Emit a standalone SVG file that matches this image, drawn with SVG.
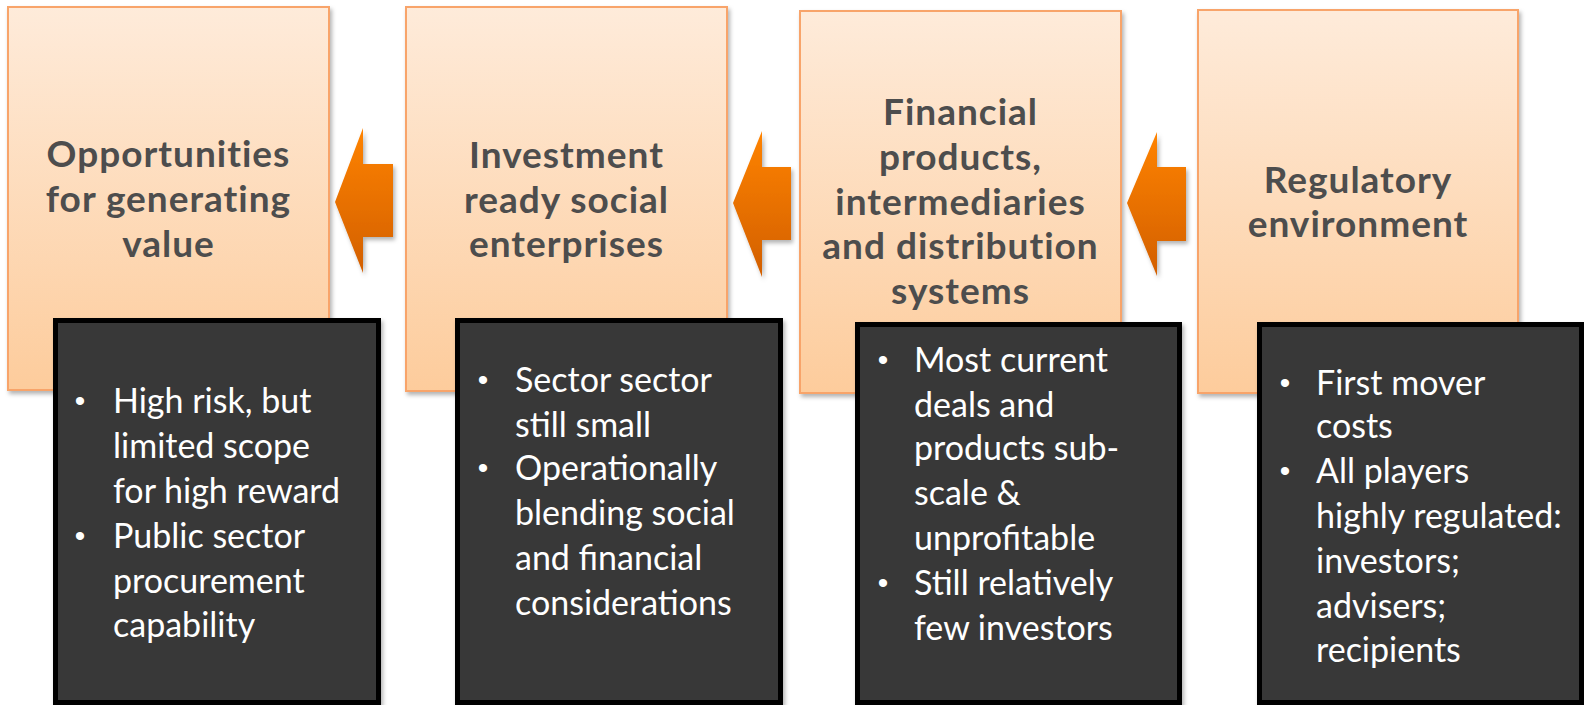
<svg xmlns="http://www.w3.org/2000/svg" width="1584" height="705" viewBox="0 0 1584 705">
<defs>
<linearGradient id="gBox" x1="0" y1="0" x2="0" y2="1">
<stop offset="0" stop-color="#FEEBDA"/>
<stop offset="1" stop-color="#FDCC9C"/>
</linearGradient>
<linearGradient id="gArrow" x1="0" y1="0" x2="0" y2="1">
<stop offset="0" stop-color="#FF8304"/>
<stop offset="1" stop-color="#D25F00"/>
</linearGradient>
<filter id="sh" x="-10%" y="-10%" width="125%" height="125%">
<feDropShadow dx="2" dy="3" stdDeviation="2" flood-color="#000" flood-opacity="0.3"/>
</filter>
</defs>
<style>
.box{fill:url(#gBox);stroke:#F8A46A;stroke-width:2;filter:url(#sh)}
.dark{fill:#393939;stroke:#000;stroke-width:5;filter:url(#sh)}
.arrow{fill:url(#gArrow);filter:url(#sh)}
.title{font-family:Lato,"Liberation Sans",sans-serif;font-weight:bold;font-size:37px;letter-spacing:1px;fill:#4D4D4D;text-anchor:middle}
.body{font-family:Lato,"Liberation Sans",sans-serif;font-size:34px;fill:#FFFFFF}
.bul{font-family:"Liberation Sans",sans-serif;font-size:30px;fill:#FFFFFF;text-anchor:middle}
</style>
<rect width="1584" height="705" fill="#FFFFFF"/>

<g id="node-opportunities">
<rect class="box" x="8" y="7" width="321" height="383"/>
<text class="title"><tspan x="168.5" y="167">Opportunities</tspan><tspan x="168.5" y="212">for generating</tspan><tspan x="168.5" y="257">value</tspan></text>
</g>
<g id="node-investment">
<rect class="box" x="406" y="7" width="321" height="384"/>
<text class="title"><tspan x="566.5" y="168">Investment</tspan><tspan x="566.5" y="213">ready social</tspan><tspan x="566.5" y="257">enterprises</tspan></text>
</g>
<g id="node-financial">
<rect class="box" x="800" y="11" width="321" height="382"/>
<text class="title"><tspan x="960.5" y="125">Financial</tspan><tspan x="960.5" y="170">products,</tspan><tspan x="960.5" y="215">intermediaries</tspan><tspan x="960.5" y="259">and distribution</tspan><tspan x="960.5" y="304">systems</tspan></text>
</g>
<g id="node-regulatory">
<rect class="box" x="1198" y="10" width="320" height="383"/>
<text class="title"><tspan x="1358" y="193">Regulatory</tspan><tspan x="1358" y="237">environment</tspan></text>
</g>

<g id="connectors">
<polygon class="arrow" points="335,202 363,128 363,164 393,164 393,237 363,237 363,273"/>
<polygon class="arrow" points="733,203 762,131 762,167 791,167 791,240 762,240 762,277"/>
<polygon class="arrow" points="1127,203 1157,132 1157,167 1186,167 1186,241 1157,241 1157,276"/>
</g>

<g id="note-opportunities">
<rect class="dark" x="55.5" y="320.5" width="323" height="382"/>
<text class="bul"><tspan x="80" y="411">•</tspan><tspan x="80" y="546">•</tspan></text>
<text class="body"><tspan x="113" y="413">High risk, but</tspan><tspan x="113" y="458">limited scope</tspan><tspan x="113" y="503">for high reward</tspan><tspan x="113" y="548">Public sector</tspan><tspan x="113" y="593">procurement</tspan><tspan x="113" y="637">capability</tspan></text>
</g>
<g id="note-investment">
<rect class="dark" x="457.5" y="320.5" width="323" height="382"/>
<text class="bul"><tspan x="483" y="390">•</tspan><tspan x="483" y="478">•</tspan></text>
<text class="body"><tspan x="515" y="392">Sector sector</tspan><tspan x="515" y="437">still small</tspan><tspan x="515" y="480">Operationally</tspan><tspan x="515" y="525">blending social</tspan><tspan x="515" y="570">and financial</tspan><tspan x="515" y="615">considerations</tspan></text>
</g>
<g id="note-financial">
<rect class="dark" x="857.5" y="324.5" width="322" height="378"/>
<text class="bul"><tspan x="883" y="370">•</tspan><tspan x="883" y="593">•</tspan></text>
<text class="body"><tspan x="914" y="372">Most current</tspan><tspan x="914" y="417">deals and</tspan><tspan x="914" y="460">products sub-</tspan><tspan x="914" y="505">scale &amp;</tspan><tspan x="914" y="550">unprofitable</tspan><tspan x="914" y="595">Still relatively</tspan><tspan x="914" y="640">few investors</tspan></text>
</g>
<g id="note-regulatory">
<rect class="dark" x="1259.5" y="324.5" width="322" height="378"/>
<text class="bul"><tspan x="1285" y="393">•</tspan><tspan x="1285" y="481">•</tspan></text>
<text class="body"><tspan x="1316" y="395">First mover</tspan><tspan x="1316" y="438">costs</tspan><tspan x="1316" y="483">All players</tspan><tspan x="1316" y="528">highly regulated:</tspan><tspan x="1316" y="573">investors;</tspan><tspan x="1316" y="618">advisers;</tspan><tspan x="1316" y="662">recipients</tspan></text>
</g>
</svg>
